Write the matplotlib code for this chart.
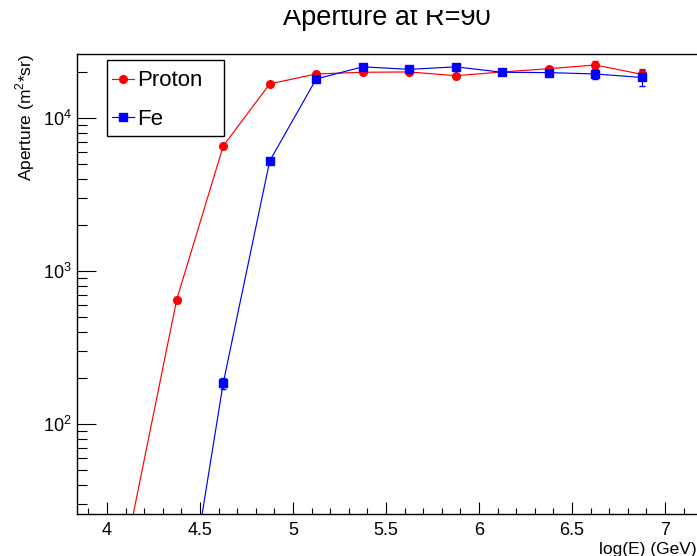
import matplotlib
matplotlib.use('Agg')
import matplotlib.pyplot as plt
import matplotlib.ticker as mticker
from matplotlib.patches import Rectangle
from matplotlib.transforms import Bbox, TransformedBbox
import numpy as np

plt.rcParams['font.family'] = ['Liberation Sans', 'DejaVu Sans']
plt.rcParams['mathtext.fontset'] = 'custom'
plt.rcParams['mathtext.rm'] = 'Liberation Sans'

# bin centres in log(E/GeV)
log_e = [4.125, 4.375, 4.625, 4.875, 5.125, 5.375, 5.625, 5.875, 6.125, 6.375, 6.625, 6.875]

proton = [20.6, 650, 6560, 16700, 19400, 19900, 20000, 18900, 20000, 21000, 22200, 19300]
proton_err = [2, 30, 150, 300, 350, 400, 400, 400, 450, 550, 1300, 1500]

fe_x = log_e[1:]
fe = [2.4, 185, 5240, 18000, 21600, 20800, 21600, 19900, 19800, 19400, 18400]
fe_err = [0.5, 15, 120, 350, 400, 400, 450, 450, 500, 1400, 2200]

fig = plt.figure(figsize=(6.97, 5.56), dpi=100)
ax = fig.add_axes([77 / 697, 42 / 556, 620 / 697, 460 / 556])

ax.errorbar(log_e, proton, yerr=proton_err, fmt='none', ecolor='r',
            elinewidth=0.9, capsize=2)
ax.errorbar(fe_x, fe, yerr=fe_err, fmt='none', ecolor='b',
            elinewidth=0.9, capsize=2)
ax.plot(log_e, proton, color='r', marker='o', ms=5.5, lw=0.85, label='Proton')
ax.plot(fe_x, fe, color='b', marker='s', ms=5.5, lw=0.85, label='Fe')

ax.set_yscale('log')
ax.set_xlim(3.839, 7.172)
ax.set_ylim(25.8, 26200)

ax.xaxis.set_major_locator(mticker.MultipleLocator(0.5))
ax.xaxis.set_minor_locator(mticker.MultipleLocator(0.1))
ax.xaxis.set_major_formatter(mticker.FuncFormatter(lambda v, p: '%g' % v))
ax.yaxis.set_major_locator(mticker.LogLocator(base=10))
ax.yaxis.set_minor_locator(mticker.LogLocator(base=10, subs=np.arange(2, 10)))
ax.yaxis.set_minor_formatter(mticker.NullFormatter())

ax.tick_params(axis='x', which='major', direction='in', length=8.6, width=0.8, labelsize=13, pad=6)
ax.tick_params(axis='x', which='minor', direction='in', length=4.3, width=0.8)
ax.tick_params(axis='y', which='major', direction='in', length=13.7, width=0.8, labelsize=13, pad=4)
ax.tick_params(axis='y', which='minor', direction='in', length=7.2, width=0.8)

ax.spines['right'].set_visible(False)
for s in ['left', 'top', 'bottom']:
    ax.spines[s].set_linewidth(1.0)

ax.set_xlabel('log(E) (GeV)', fontsize=12.5, loc='right', labelpad=2)
ax.set_ylabel('Aperture (m$^{2}$*sr)', fontsize=12.5, loc='top', labelpad=4)

# title, clipped at the top like the ROOT title box
title = fig.text(387 / 697, 1 - 25 / 556, 'Aperture at R=90', fontsize=19.5,
                 ha='center', va='baseline')
title.set_clip_box(TransformedBbox(Bbox([[0, 0], [1, 1 - 10 / 556]]), fig.transFigure))
title.set_clip_on(True)

# legend box
ax.add_patch(Rectangle((30 / 620, 378 / 460), 117 / 620, 76 / 460, transform=ax.transAxes,
                       fill=True, facecolor='white', edgecolor='black', lw=1.0, zorder=4))
leg = ax.legend(loc='upper left', bbox_to_anchor=(31 / 620, 448 / 460), borderaxespad=0,
                fontsize=16, frameon=False, handlelength=0.95, handletextpad=0.15,
                labelspacing=0.8, borderpad=0.2)
leg.set_zorder(5)

fig.savefig('out.png', dpi=100)
